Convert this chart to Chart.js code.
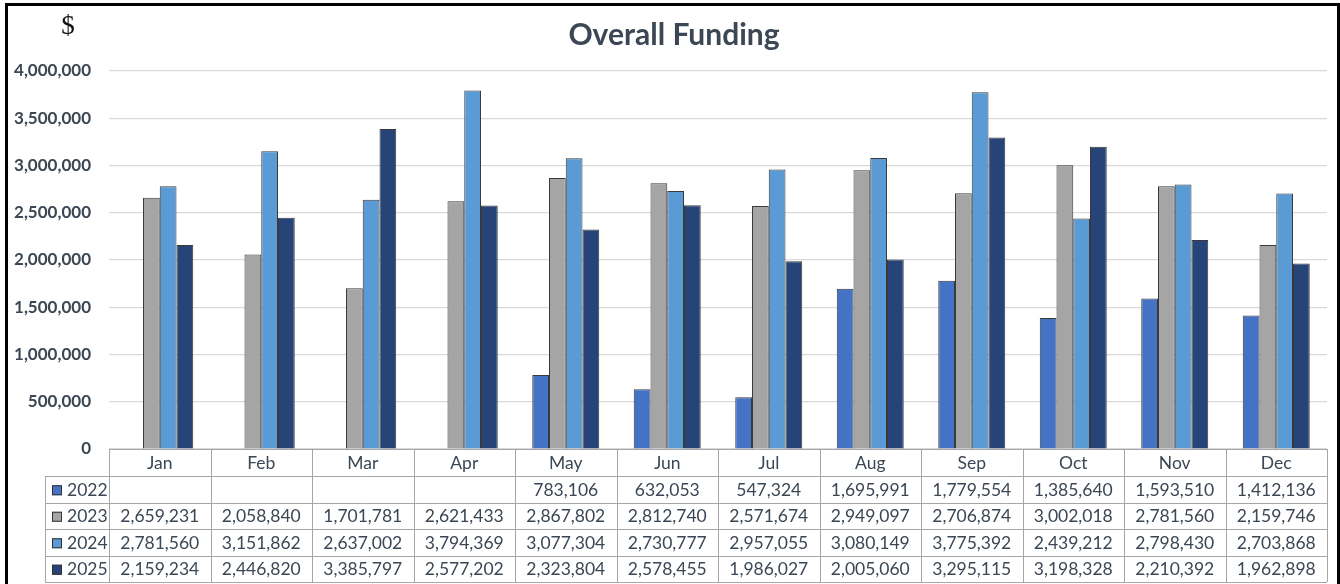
<!DOCTYPE html>
<html>
<head>
<meta charset="utf-8">
<script src="https://cdn.jsdelivr.net/npm/chart.js@4.4.1/dist/chart.umd.min.js"></script>
<style>
    html, body { margin: 0; padding: 0; background: #fff; }
    #wrap { width: 1340px; height: 584px; }
</style>
</head>
<body>
<div id="wrap"><canvas id="funding" width="1340" height="584"></canvas></div>
<script>
"use strict";

var months = ['Jan', 'Feb', 'Mar', 'Apr', 'May', 'Jun', 'Jul', 'Aug', 'Sep', 'Oct', 'Nov', 'Dec'];
var years = ['2022', '2023', '2024', '2025'];
var funding2022 = [null, null, null, null, 783106, 632053, 547324, 1695991, 1779554, 1385640, 1593510, 1412136];
var funding2023 = [2659231, 2058840, 1701781, 2621433, 2867802, 2812740, 2571674, 2949097, 2706874, 3002018, 2781560, 2159746];
var funding2024 = [2781560, 3151862, 2637002, 3794369, 3077304, 2730777, 2957055, 3080149, 3775392, 2439212, 2798430, 2703868];
var funding2025 = [2159234, 2446820, 3385797, 2577202, 2323804, 2578455, 1986027, 2005060, 3295115, 3198328, 2210392, 1962898];
var yearColors = ['#4472C4', '#A5A5A5', '#5B9BD5', '#264478'];

var textColor = '#3B4754';
var fontFamily = 'Lato, "Open Sans", sans-serif';

function fmt(v) {
    return v === null ? '' : v.toLocaleString('en-US');
}

// frame, title, "$" sign and the data table under the plot
var decorPlugin = {
    id: 'decor',
    afterDraw: function(chart) {
        var ctx = chart.ctx;
        var area = chart.chartArea;
        var xs = chart.scales.x;
        var sets = chart.data.datasets;

        ctx.save();

        // outer frame
        ctx.fillStyle = '#000';
        ctx.fillRect(5, 3, 3, 581);
        ctx.fillRect(5, 3, 1335, 3);
        ctx.fillRect(1337, 3, 3, 581);

        // title
        ctx.fillStyle = textColor;
        ctx.font = 'bold 30px ' + fontFamily;
        ctx.textAlign = 'center';
        ctx.textBaseline = 'middle';
        ctx.fillText('Overall Funding', 674, 35);

        ctx.fillStyle = '#111';
        ctx.font = '27px "Liberation Serif", "DejaVu Serif", serif';
        ctx.fillText('$', 68, 27);

        // table
        var headTop = area.bottom;
        var rowH = 26.5;
        var bodyTop = headTop + 27;
        var legLeft = 45;
        var half = (xs.getPixelForValue(1) - xs.getPixelForValue(0)) / 2;
        var bottom = bodyTop + rowH * sets.length;

        ctx.strokeStyle = '#A6A6A6';
        ctx.lineWidth = 1;
        ctx.beginPath();
        ctx.moveTo(area.left, headTop + 0.5);
        ctx.lineTo(area.right, headTop + 0.5);
        for (var r = 0; r <= sets.length; r++) {
            var ly = Math.round(bodyTop + r * rowH) + 0.5;
            ctx.moveTo(legLeft, ly);
            ctx.lineTo(area.right, ly);
        }
        ctx.moveTo(legLeft + 0.5, bodyTop);
        ctx.lineTo(legLeft + 0.5, bottom);
        for (var i = 0; i <= months.length; i++) {
            var lx = Math.round(i < months.length ? xs.getPixelForValue(i) - half : area.right) + 0.5;
            ctx.moveTo(lx, headTop);
            ctx.lineTo(lx, bottom);
        }
        ctx.stroke();

        ctx.fillStyle = textColor;
        ctx.font = '17.5px ' + fontFamily;
        ctx.textAlign = 'center';
        ctx.textBaseline = 'middle';
        months.forEach(function(m, i) {
            ctx.fillText(m, xs.getPixelForValue(i), headTop + 14);
        });

        sets.forEach(function(ds, r) {
            var cy = bodyTop + r * rowH + rowH / 2 + 1;
            // legend key
            ctx.fillStyle = ds.backgroundColor;
            ctx.fillRect(52, cy - 5, 10, 10);
            ctx.strokeStyle = '#333';
            ctx.strokeRect(52.5, cy - 4.5, 9, 9);
            ctx.fillStyle = textColor;
            ctx.textAlign = 'left';
            ctx.fillText(ds.label, 67, cy);
            ctx.textAlign = 'center';
            ds.data.forEach(function(v, i) {
                ctx.fillText(fmt(v), xs.getPixelForValue(i), cy);
            });
        });

        ctx.restore();
    }
};

new Chart(document.getElementById('funding'), {
    type: 'bar',
    data: {
        labels: months,
        datasets: [funding2022, funding2023, funding2024, funding2025].map(function(d, i) {
            return {
                label: years[i],
                data: d,
                backgroundColor: yearColors[i],
                borderColor: '#3A3A3A',
                borderWidth: 1,
                barPercentage: 1,
                categoryPercentage: 0.66
            };
        })
    },
    options: {
        responsive: false,
        animation: false,
        layout: {
            padding: { left: 0, right: 13, top: 71, bottom: 135 }
        },
        plugins: {
            legend: { display: false },
            title: { display: false },
            tooltip: { enabled: false }
        },
        scales: {
            x: {
                display: false
            },
            y: {
                min: 0,
                max: 4000000,
                border: { display: false },
                grid: { color: '#D9D9D9', lineWidth: 1.2, drawTicks: false },
                ticks: {
                    stepSize: 500000,
                    padding: 18,
                    color: textColor,
                    font: { family: fontFamily, size: 17, weight: 'bold' },
                    callback: function(v) { return fmt(v); }
                },
                afterFit: function(scale) {
                    scale.width = 109;
                    scale.paddingTop = 0;
                    scale.paddingBottom = 0;
                }
            }
        }
    },
    plugins: [decorPlugin]
});
</script>
</body>
</html>
